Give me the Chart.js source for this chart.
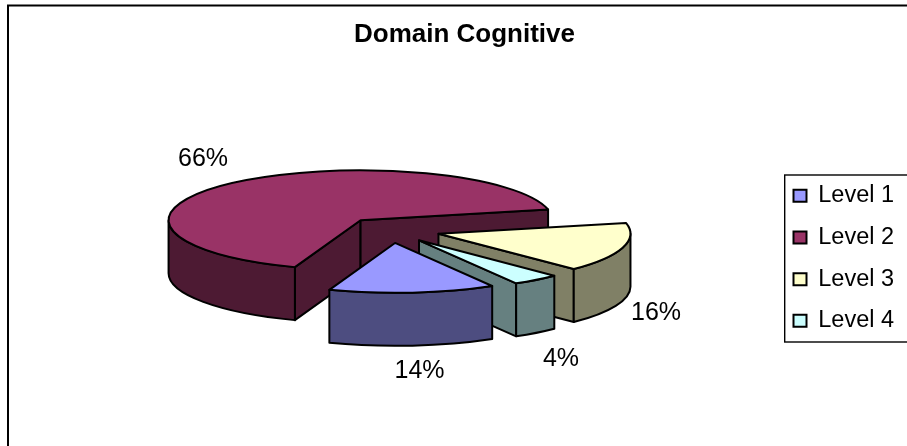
<!DOCTYPE html>
<html>
<head>
<meta charset="utf-8">
<title>Domain Cognitive</title>
<script src="https://cdn.jsdelivr.net/npm/chart.js@4/dist/chart.umd.js"></script>
<style>
  html, body { margin: 0; padding: 0; background: #fff; }
  canvas { display: block; }
</style>
</head>
<body>
<canvas id="chart" width="907" height="446"></canvas>
<script>
// values
const categories = ['Level 1', 'Level 2', 'Level 3', 'Level 4'];
const shares = [14, 66, 16, 4];
const sliceColors = ['#9999FF', '#993366', '#FFFFCC', '#CCFFFF'];
const wallColors = ['#4D4D80', '#4D1A33', '#808066', '#668080'];

// look of the fake 3d pie
const FONT = '"Liberation Sans", Arial, sans-serif';
const center = { x: 393.5, y: 230 };
const tilt = 0.26;
const depth = 53;
const explode = 50;
const nudgeX = [-3, 0, -3, -5]; // the slices don't sit quite radially in the original
const drawOrder = [1, 2, 3, 0]; // back to front
const labelSpots = [[419.5, 371], [203, 159], [656, 313], [561, 359]];

class Pie3dController extends Chart.PieController {
  draw() {
    const ctx = this.chart.ctx;
    const arcs = this._cachedMeta.data;
    drawOrder.forEach(i => this.drawSlice(ctx, arcs[i], i));
  }

  drawSlice(ctx, arc, i) {
    const start = arc.startAngle, end = arc.endAngle, r = arc.outerRadius;
    const mid = (start + end) / 2;
    const ex = center.x + Math.cos(mid) * explode + nudgeX[i];
    const ey = center.y + Math.sin(mid) * explode * tilt;
    const ry = r * tilt;

    ctx.save();
    ctx.lineWidth = 2;
    ctx.lineJoin = 'round';
    ctx.strokeStyle = '#000';
    ctx.fillStyle = wallColors[i];

    // cut faces, only those turned towards the viewer
    const cutFace = (a) => {
      const px = ex + Math.cos(a) * r, py = ey + Math.sin(a) * ry;
      ctx.beginPath();
      ctx.moveTo(ex, ey);
      ctx.lineTo(px, py);
      ctx.lineTo(px, py + depth);
      ctx.lineTo(ex, ey + depth);
      ctx.closePath();
      ctx.fill();
      ctx.stroke();
    };
    if (Math.sin(start - Math.PI / 2) > 0) cutFace(start);
    if (Math.sin(end + Math.PI / 2) > 0) cutFace(end);

    // rim, front half only
    for (let k = 0; k < 2; k++) {
      const lo = Math.max(start, 2 * Math.PI * k);
      const hi = Math.min(end, Math.PI + 2 * Math.PI * k);
      if (hi <= lo) continue;
      ctx.beginPath();
      ctx.ellipse(ex, ey, r, ry, 0, lo, hi);
      ctx.ellipse(ex, ey + depth, r, ry, 0, hi, lo, true);
      ctx.closePath();
      ctx.fill();
      ctx.stroke();
    }

    // top face: the library's own arc, squashed
    ctx.save();
    ctx.translate(ex, ey);
    ctx.scale(1, tilt);
    ctx.translate(-arc.x, -arc.y);
    arc.draw(ctx);
    ctx.restore();

    // outline after the transform so the line stays even
    ctx.beginPath();
    ctx.moveTo(ex, ey);
    ctx.ellipse(ex, ey, r, ry, 0, start, end);
    ctx.closePath();
    ctx.stroke();
    ctx.restore();
  }
}
Pie3dController.id = 'pie3d';
Pie3dController.defaults = Chart.PieController.defaults;
Pie3dController.overrides = Chart.PieController.overrides;
Chart.register(Pie3dController);

const framePlugin = {
  id: 'frame',
  afterLayout(chart) {
    // legend sits in a fixed box running off the right edge
    const lg = chart.legend;
    const pad = lg.options.labels.padding;
    lg.left = 793.5 - pad;
    lg.right = lg.left + 200;
    lg.top = 184 - pad;
    lg.bottom = lg.top + 200;
  },
  beforeDraw(chart) {
    const ctx = chart.ctx;
    ctx.save();
    ctx.strokeStyle = '#000';
    ctx.lineWidth = 2;
    ctx.strokeRect(8, 5.5, 1000, 1000);
    ctx.lineWidth = 1.4;
    ctx.strokeRect(784.7, 175, 300, 167);
    ctx.restore();
  },
  afterDraw(chart) {
    const ctx = chart.ctx;
    ctx.save();
    ctx.fillStyle = '#000';
    ctx.font = '25px ' + FONT;
    ctx.textAlign = 'center';
    ctx.textBaseline = 'middle';
    shares.forEach((v, i) => {
      ctx.fillText(v + '%', labelSpots[i][0], labelSpots[i][1]);
    });
    ctx.restore();
  }
};

new Chart(document.getElementById('chart'), {
  type: 'pie3d',
  data: {
    labels: categories,
    datasets: [{
      data: shares,
      backgroundColor: sliceColors,
      borderWidth: 0
    }]
  },
  options: {
    responsive: false,
    animation: false,
    events: [],
    rotation: 149.6,
    radius: 192,
    layout: { padding: { left: 22 } },
    plugins: {
      title: {
        display: true,
        text: 'Domain Cognitive',
        color: '#000',
        font: { family: FONT, size: 26, weight: 'bold' },
        padding: { top: 19.5, bottom: 10 }
      },
      tooltip: { enabled: false },
      legend: {
        position: 'right',
        align: 'start',
        labels: {
          boxWidth: 13,
          boxHeight: 12,
          padding: 18.2,
          color: '#000',
          font: { family: FONT, size: 23.5, lineHeight: 0.8 },
          generateLabels(chart) {
            return Chart.overrides.pie.plugins.legend.labels.generateLabels(chart)
              .map(item => ({ ...item, lineWidth: 2, strokeStyle: '#000' }));
          }
        }
      }
    }
  },
  plugins: [framePlugin]
});
</script>
</body>
</html>
